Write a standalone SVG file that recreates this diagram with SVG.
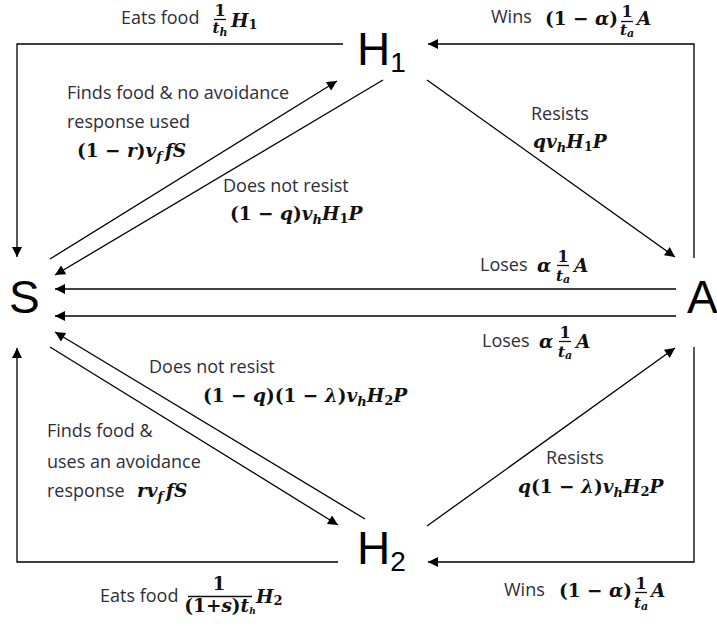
<svg xmlns="http://www.w3.org/2000/svg" width="717" height="626" viewBox="0 0 717 626">
<style>
.node{font-family:"Liberation Sans",Arial,sans-serif;font-size:46px;fill:#000}
.nsub{font-size:28px}
.lbl{font-family:"Open Sans","Liberation Sans",Arial,sans-serif;font-size:18px;fill:#2e2e38}
.m{font-family:"DejaVu Serif","Liberation Serif",serif;font-size:18.5px;font-weight:bold;font-style:italic;fill:#111}
.u{font-style:normal}
.f{font-size:13px}
.nu{font-size:16px}
.dn{font-size:15px}
.bar{stroke:#111;stroke-width:1.3}
.c{fill:none;stroke:#000;stroke-width:1.3;marker-end:url(#ah)}
</style>
<defs>
<marker id="ah" viewBox="0 0 10 10" refX="10" refY="5" markerUnits="userSpaceOnUse" markerWidth="12" markerHeight="10" orient="auto">
<path d="M0,0 L10,5 L0,10 z" fill="#000"/>
</marker>
</defs>
<rect width="717" height="626" fill="#fff"/>

<g id="connectors">
<path class="c" d="M343,44 H17 V257"/>
<path class="c" d="M694,258 V44 H428"/>
<path class="c" d="M694,347 V562 H428"/>
<path class="c" d="M338,562 H17 V348"/>
<path class="c" d="M50,259 L337,81"/>
<path class="c" d="M383,80 L55,275"/>
<path class="c" d="M427,80 L675,257"/>
<path class="c" d="M676,289 H55"/>
<path class="c" d="M676,316 H55"/>
<path class="c" d="M365,519 L55,332"/>
<path class="c" d="M50,347 L338,525"/>
<path class="c" d="M427,526 L675,348"/>
</g>

<g id="node-S"><text class="node" x="9" y="313">S</text></g>
<g id="node-H1"><text class="node" x="357" y="65">H<tspan class="nsub" dy="7">1</tspan></text></g>
<g id="node-A"><text class="node" x="687" y="313">A</text></g>
<g id="node-H2"><text class="node" x="357" y="564">H<tspan class="nsub" dy="7">2</tspan></text></g>

<g id="labels">
<!-- Eats food top -->
<text class="lbl" x="121" y="24">Eats food</text>
<text class="m u nu" x="220" y="16" text-anchor="middle">1</text>
<line class="bar" x1="214" y1="19.5" x2="226" y2="19.5"/>
<text class="m dn" x="220" y="33" text-anchor="middle">t<tspan font-size="11" dy="3">h</tspan></text>
<text class="m" x="231" y="27">H<tspan class="u f" dy="2">1</tspan></text>

<!-- Wins top -->
<text class="lbl" x="491" y="23">Wins</text>
<text class="m" x="545" y="25"><tspan class="u">(1 − </tspan>α<tspan class="u">)</tspan></text>
<text class="m u nu" x="627" y="17" text-anchor="middle">1</text>
<line class="bar" x1="621" y1="21.5" x2="633" y2="21.5"/>
<text class="m dn" x="627" y="35" text-anchor="middle">t<tspan font-size="11" dy="2">a</tspan></text>
<text class="m" x="637" y="25">A</text>

<!-- Finds food & no avoidance -->
<text class="lbl" x="67" y="99">Finds food &amp; no avoidance</text>
<text class="lbl" x="67" y="128">response used</text>
<text class="m" x="77" y="157"><tspan class="u">(1 − </tspan>r<tspan class="u">)</tspan>v<tspan class="f" dy="4">f</tspan><tspan dx="3" dy="-4">fS</tspan></text>

<!-- Does not resist top -->
<text class="lbl" x="223" y="192">Does not resist</text>
<text class="m" x="230" y="220"><tspan class="u">(1 − </tspan>q<tspan class="u">)</tspan>v<tspan class="f" dy="4">h</tspan><tspan dy="-4">H</tspan><tspan class="u f" dy="3">1</tspan><tspan dy="-3">P</tspan></text>

<!-- Resists top -->
<text class="lbl" x="531" y="120">Resists</text>
<text class="m" x="533" y="148">qv<tspan class="f" dy="4">h</tspan><tspan dy="-4">H</tspan><tspan class="u f" dy="3">1</tspan><tspan dy="-3">P</tspan></text>

<!-- Loses top -->
<text class="lbl" x="480" y="271">Loses</text>
<text class="m" x="537" y="272">α</text>
<text class="m u nu" x="563" y="262" text-anchor="middle">1</text>
<line class="bar" x1="557" y1="265.5" x2="569" y2="265.5"/>
<text class="m dn" x="563" y="281" text-anchor="middle">t<tspan font-size="11" dy="2">a</tspan></text>
<text class="m" x="574" y="272">A</text>

<!-- Loses bottom -->
<text class="lbl" x="482" y="347">Loses</text>
<text class="m" x="539" y="348">α</text>
<text class="m u nu" x="565" y="338" text-anchor="middle">1</text>
<line class="bar" x1="559" y1="341.5" x2="571" y2="341.5"/>
<text class="m dn" x="565" y="357" text-anchor="middle">t<tspan font-size="11" dy="2">a</tspan></text>
<text class="m" x="576" y="348">A</text>

<!-- Does not resist bottom -->
<text class="lbl" x="149" y="373">Does not resist</text>
<text class="m" x="203" y="402"><tspan class="u">(1 − </tspan>q<tspan class="u">)(1 − </tspan>λ<tspan class="u">)</tspan>v<tspan class="f" dy="4">h</tspan><tspan dy="-4">H</tspan><tspan class="u f" dy="3">2</tspan><tspan dy="-3">P</tspan></text>

<!-- Finds food & uses an avoidance -->
<text class="lbl" x="47" y="437">Finds food &amp;</text>
<text class="lbl" x="47" y="468">uses an avoidance</text>
<text class="lbl" x="47" y="497">response</text>
<text class="m" x="137" y="497">rv<tspan class="f" dy="4">f</tspan><tspan dx="3" dy="-4">fS</tspan></text>

<!-- Resists bottom -->
<text class="lbl" x="546" y="464">Resists</text>
<text class="m" x="518" y="493">q<tspan class="u">(1 − </tspan>λ<tspan class="u">)</tspan>v<tspan class="f" dy="4">h</tspan><tspan dy="-4">H</tspan><tspan class="u f" dy="3">2</tspan><tspan dy="-3">P</tspan></text>

<!-- Eats food bottom -->
<text class="lbl" x="100" y="602">Eats food</text>
<text class="m u" x="219" y="590" text-anchor="middle" font-size="14">1</text>
<line class="bar" x1="188" y1="596.5" x2="252" y2="596.5"/>
<text class="m" x="220" y="612" text-anchor="middle" font-size="11.5"><tspan class="u">(1+</tspan>s<tspan class="u">)</tspan>t<tspan font-size="9" dy="2">h</tspan></text>
<text class="m" x="256" y="603">H<tspan class="u f" dy="2">2</tspan></text>

<!-- Wins bottom -->
<text class="lbl" x="504" y="596">Wins</text>
<text class="m" x="559" y="597"><tspan class="u">(1 − </tspan>α<tspan class="u">)</tspan></text>
<text class="m u nu" x="641" y="589" text-anchor="middle">1</text>
<line class="bar" x1="635" y1="592.5" x2="647" y2="592.5"/>
<text class="m dn" x="641" y="608" text-anchor="middle">t<tspan font-size="11" dy="2">a</tspan></text>
<text class="m" x="651" y="597">A</text>
</g>
</svg>
